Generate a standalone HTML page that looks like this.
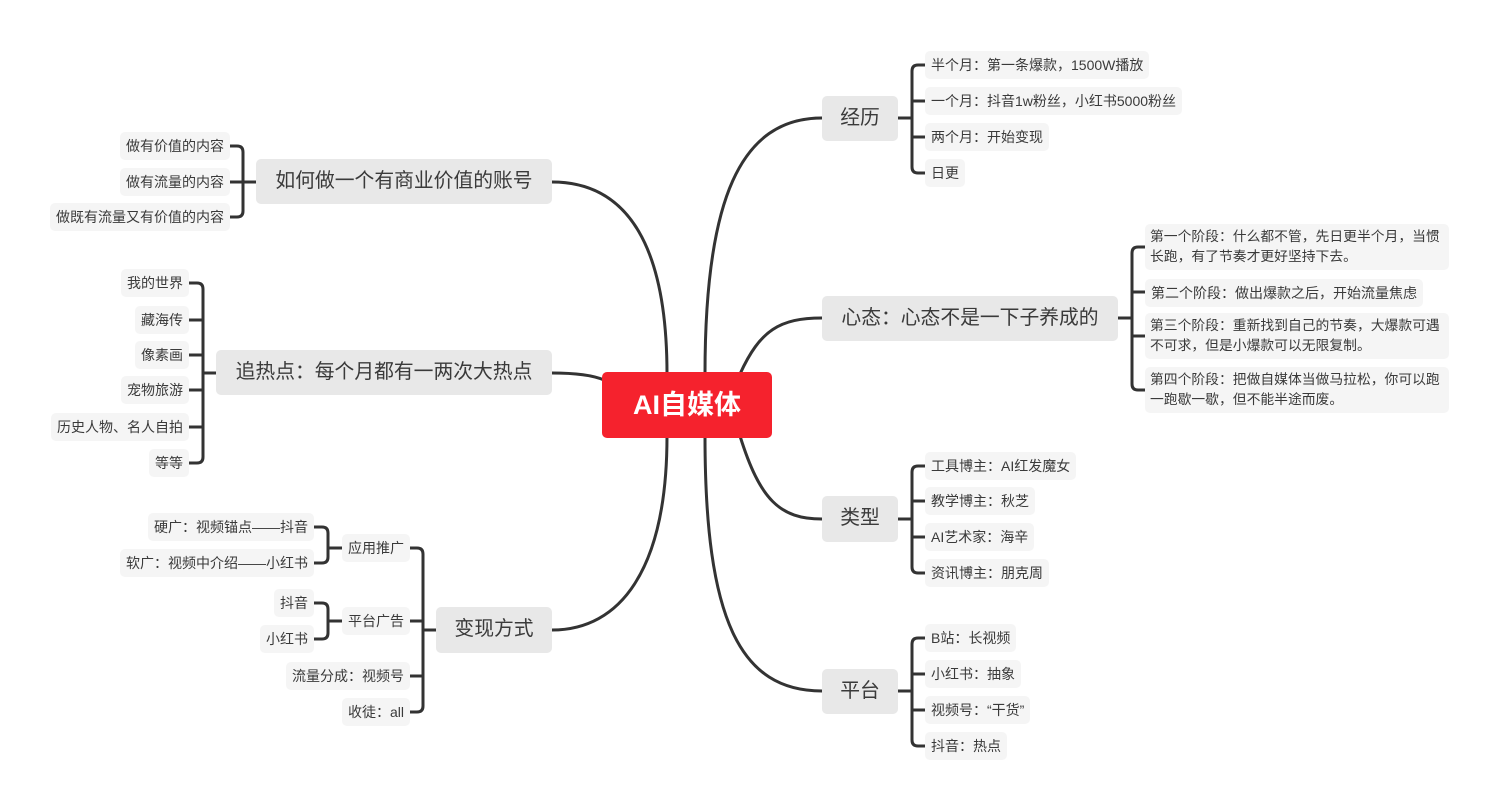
<!DOCTYPE html>
<html><head><meta charset="utf-8">
<style>
html,body{margin:0;padding:0;background:#fff;}
#c{position:relative;width:1500px;height:811px;overflow:hidden;font-family:"Liberation Sans","Noto Sans CJK SC",sans-serif;color:#3a3a3a;}
.b{position:absolute;box-sizing:border-box;border-radius:5px;white-space:nowrap;}
.l{background:#f5f5f5;font-size:14px;line-height:28px;padding:0 6px;}
.l2{background:#f5f5f5;font-size:13.8px;line-height:20px;padding:3px 4px 3px 5px;white-space:normal;}
.m{background:#e8e8e8;font-size:19.8px;line-height:45px;text-align:center;}
.r{background:#f5222d;color:#fff;font-size:27px;font-weight:bold;text-align:center;line-height:66px;border-radius:5px;}
svg{position:absolute;left:0;top:0;}
</style></head><body><div id="c">
<svg width="1500" height="811" fill="none" stroke="#333" stroke-width="3" id="s"></svg>
</div>
<script>
var c=document.getElementById('c'),s=document.getElementById('s');
function box(cls,x,y,w,h,t,right){var d=document.createElement('div');d.className='b '+cls;d.style.top=y+'px';d.style.height=h+'px';if(right){d.style.right=(1500-x)+'px';}else d.style.left=x+'px';if(w)d.style.width=w+'px';d.innerHTML=t;c.appendChild(d);}
function p(d){var e=document.createElementNS('http://www.w3.org/2000/svg','path');e.setAttribute('d',d);s.appendChild(e);}
function br(px,py,bx,ys,cx){var dr=cx>bx?1:-1,r=6,y0=ys[0],yn=ys[ys.length-1];
p('M'+px+' '+py+'H'+bx);
p('M'+cx+' '+y0+'H'+(bx+dr*r)+'Q'+bx+' '+y0+' '+bx+' '+(y0+r)+'V'+(yn-r)+'Q'+bx+' '+yn+' '+(bx+dr*r)+' '+yn+'H'+cx);
for(var i=1;i<ys.length-1;i++)p('M'+bx+' '+ys[i]+'H'+cx);}
p('M705 374C705 200 740 118 822 118');
p('M740 374C760 330 780 318 822 318');
p('M740 436C760 500 780 519 822 519');
p('M705 436C705 620 740 691 822 691');
p('M667 374C667 250 630 182 552 182');
p('M604 380C590 374 570 373 552 373');
p('M667 436C667 570 620 630 552 630');
box('r',602,372,170,66,'AI自媒体');
box('m',822,96,76,45,'经历');
box('m',822,296,296,45,'心态：心态不是一下子养成的');
box('m',822,496,76,46,'类型');
box('m',822,669,76,45,'平台');
box('m',256,159,296,45,'如何做一个有商业价值的账号');
box('m',216,350,336,45,'追热点：每个月都有一两次大热点');
box('m',436,607,116,46,'变现方式');
br(898,118,912,[65,101,137,173],925);
[['半个月：第一条爆款，1500W播放',65],['一个月：抖音1w粉丝，小红书5000粉丝',101],['两个月：开始变现',137],['日更',173]].forEach(function(a){box('l',925,a[1]-14,0,28,a[0]);});
br(1118,318,1132,[247,292,336,390],1145);
box('l2',1145,224,304,46,'第一个阶段：什么都不管，先日更半个月，当惯长跑，有了节奏才更好坚持下去。');
box('l',1145,279,0,28,'第二个阶段：做出爆款之后，开始流量焦虑');
box('l2',1145,313,304,46,'第三个阶段：重新找到自己的节奏，大爆款可遇不可求，但是小爆款可以无限复制。');
box('l2',1145,367,304,46,'第四个阶段：把做自媒体当做马拉松，你可以跑一跑歇一歇，但不能半途而废。');
br(898,519,912,[466,501,537,573],925);
[['工具博主：AI红发魔女',466],['教学博主：秋芝',501],['AI艺术家：海辛',537],['资讯博主：朋克周',573]].forEach(function(a){box('l',925,a[1]-14,0,28,a[0]);});
br(898,691,912,[638,674,710,746],925);
[['B站：长视频',638],['小红书：抽象',674],['视频号：“干货”',710],['抖音：热点',746]].forEach(function(a){box('l',925,a[1]-14,0,28,a[0]);});
br(256,182,243,[146,182,217],230);
[['做有价值的内容',146],['做有流量的内容',182],['做既有流量又有价值的内容',217]].forEach(function(a){box('l',230,a[1]-14,0,28,a[0],1);});
br(216,373,203,[283,320,355,390,427,463],189);
[['我的世界',283],['藏海传',320],['像素画',355],['宠物旅游',390],['历史人物、名人自拍',427],['等等',463]].forEach(function(a){box('l',189,a[1]-14,0,28,a[0],1);});
br(436,630,423,[548,621,676,712],410);
[['应用推广',548],['平台广告',621],['流量分成：视频号',676],['收徒：all',712]].forEach(function(a){box('l',410,a[1]-14,0,28,a[0],1);});
br(342,548,328,[527,563],314);
br(342,621,328,[603,639],314);
[['硬广：视频锚点——抖音',527],['软广：视频中介绍——小红书',563],['抖音',603],['小红书',639]].forEach(function(a){box('l',314,a[1]-14,0,28,a[0],1);});
</script>
</body></html>
